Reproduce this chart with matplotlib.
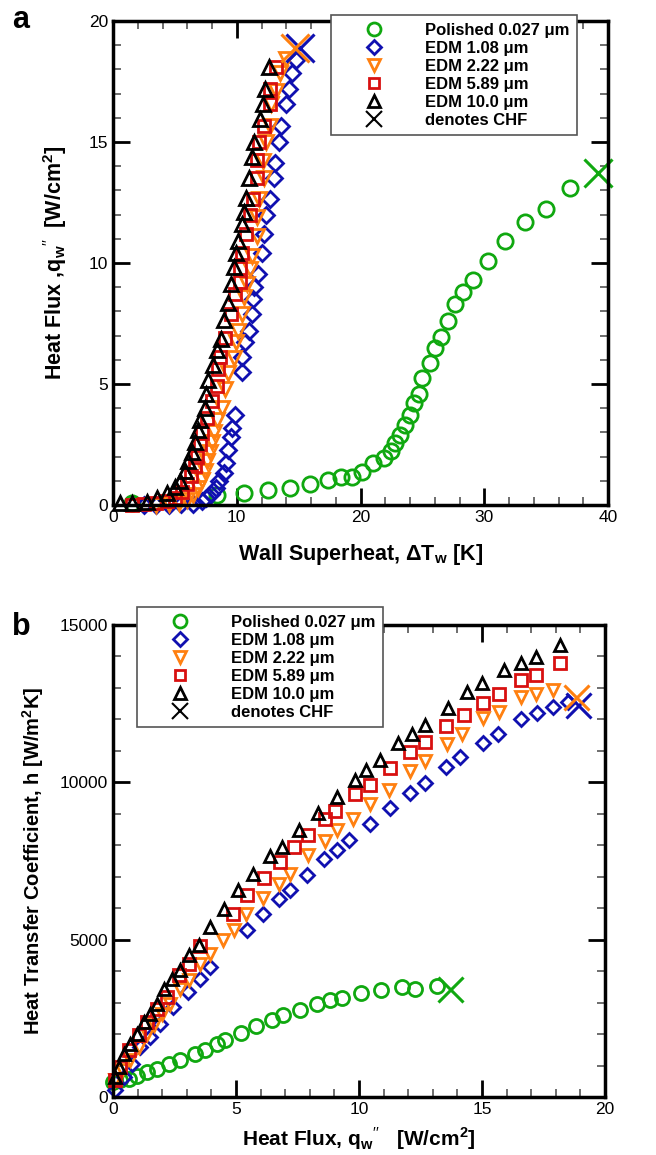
import numpy as np
import matplotlib.pyplot as plt
from matplotlib.lines import Line2D
from matplotlib.ticker import MultipleLocator

plt.rcParams['font.family'] = ['Liberation Sans', 'DejaVu Sans']
plt.rcParams['mathtext.fontset'] = 'custom'
plt.rcParams['mathtext.rm'] = 'Liberation Sans'
plt.rcParams['mathtext.bf'] = 'Liberation Sans:bold'

# ---------------- panel a: q'' vs wall superheat ----------------
pol_dT = [1.5, 8.4, 10.6, 12.5, 14.3, 15.9, 17.4, 18.4, 19.3, 20.1, 21.0, 21.9, 22.5, 22.8, 23.2, 23.6,
          24.0, 24.3, 24.7, 25.0, 25.6, 26.0, 26.5, 27.1, 27.6, 28.3, 29.1, 30.3, 31.7, 33.3, 35.0, 36.9]
pol_q = [0.1, 0.4, 0.5, 0.6, 0.7, 0.87, 1.03, 1.14, 1.17, 1.38, 1.72, 1.94, 2.24, 2.55, 2.89, 3.3,
         3.7, 4.2, 4.6, 5.23, 5.85, 6.5, 6.95, 7.6, 8.3, 8.8, 9.3, 10.1, 10.9, 11.7, 12.25, 13.1]

e108_dT = [2.5, 3.5, 4.5, 5.5, 6.5, 7.2, 7.5, 7.95, 8.3, 8.6, 9.0, 9.15, 9.3, 9.5, 9.6, 9.88, 10.4, 10.4,
           10.7, 11.0, 11.2, 11.35, 11.4, 11.75, 12.0, 12.2, 12.4, 12.7, 13.0, 13.1, 13.4, 13.6, 14.0, 14.2,
           14.45, 14.8]
e108_q = [0.01, 0.01, 0.02, 0.03, 0.06, 0.15, 0.3, 0.45, 0.7, 1.0, 1.32, 1.73, 2.27, 2.8, 3.2, 3.7, 5.5, 6.1,
          6.75, 7.2, 7.9, 8.5, 9.0, 9.55, 10.4, 11.2, 12.0, 12.65, 13.5, 14.15, 15.0, 15.65, 16.55, 17.2,
          17.85, 18.4]

e222_dT = [3.5, 4.5, 5.3, 6.0, 6.5, 6.9, 7.2, 7.4, 7.6, 7.8, 8.0, 8.2, 8.4, 8.8, 9.07, 9.33, 9.74, 9.95,
           10.1, 10.4, 10.6, 10.8, 11.1, 11.2, 11.6, 11.6, 11.8, 12.2, 12.1, 12.35, 12.7, 12.8, 13.2, 13.5, 14.0]
e222_q = [0.02, 0.03, 0.08, 0.2, 0.4, 0.7, 1.05, 1.4, 1.8, 2.2, 2.6, 3.0, 3.5, 4.0, 4.8, 5.44, 6.06, 6.74,
          7.2, 7.9, 8.6, 9.15, 9.77, 10.3, 11.1, 11.9, 12.66, 13.5, 14.2, 15.0, 15.65, 16.55, 17.1, 17.85, 18.45]

e589_dT = [1.5, 2.5, 3.5, 4.4, 5.0, 5.6, 6.0, 6.3, 6.6, 6.8, 7.0, 7.2, 7.6, 8.0, 8.4, 8.5, 8.66, 9.06, 9.5,
           9.87, 10.3, 10.3, 10.4, 10.76, 11.1, 11.35, 11.6, 11.6, 11.8, 12.2, 12.7, 12.7, 13.2]
e589_q = [0.02, 0.03, 0.07, 0.15, 0.3, 0.55, 0.85, 1.2, 1.6, 2.0, 2.5, 2.96, 3.6, 4.3, 4.9, 5.6, 6.1, 6.9, 7.9,
          8.7, 9.2, 9.8, 10.4, 11.2, 12.0, 12.66, 13.5, 14.25, 15.0, 15.65, 16.55, 17.2, 18.1]

e100_dT = [0.55, 1.5, 2.75, 3.55, 4.35, 5.0, 5.4, 5.85, 6.1, 6.4, 6.6, 6.9, 7.05, 7.4, 7.5, 7.7, 8.07, 8.4,
           8.7, 9.0, 9.3, 9.55, 9.8, 9.95, 10.1, 10.4, 10.6, 10.76, 11.0, 11.2, 11.4, 11.85, 12.1, 12.3, 12.6]
e100_q = [0.07, 0.07, 0.14, 0.27, 0.48, 0.75, 1.0, 1.4, 1.8, 2.2, 2.6, 3.1, 3.5, 4.0, 4.58, 5.16, 5.78, 6.4,
          6.86, 7.64, 8.33, 9.13, 9.84, 10.4, 10.9, 11.6, 12.1, 12.7, 13.5, 14.4, 15.0, 15.97, 16.55, 17.2, 18.1]

chf_a_dT = [39.2, 15.1, 14.7]
chf_a_q = [13.7, 18.9, 18.9]

# ---------------- panel b: h vs q'' ----------------
pol_qb = [0.0, 0.3, 0.64, 0.97, 1.38, 1.79, 2.26, 2.73, 3.32, 3.72, 4.23, 4.56, 5.2, 5.8, 6.46, 6.93, 7.6,
          8.29, 8.83, 9.3, 10.1, 10.9, 11.74, 12.28, 13.16]
pol_h = [480, 530, 583, 657, 795, 900, 1060, 1190, 1380, 1484, 1700, 1820, 2046, 2250, 2460, 2600, 2780,
         2970, 3070, 3150, 3290, 3410, 3500, 3445, 3520]

e108_qb = [0.1, 0.43, 0.77, 1.11, 1.52, 1.92, 2.44, 3.03, 3.55, 3.95, 5.44, 6.09, 6.76, 7.2, 7.88, 8.58, 9.1,
           9.61, 10.43, 11.24, 12.08, 12.7, 13.54, 14.1, 15.06, 15.67, 16.6, 17.25, 17.9, 18.5]
e108_h = [212, 636, 1060, 1590, 1900, 2330, 2860, 3340, 3760, 4130, 5320, 5830, 6280, 6590, 7070, 7550, 7840,
          8160, 8660, 9170, 9670, 9985, 10490, 10790, 11260, 11550, 12000, 12190, 12380, 12560]

e222_qb = [0.1, 0.37, 0.7, 1.04, 1.38, 1.65, 2.0, 2.33, 2.73, 3.07, 3.55, 3.95, 4.47, 4.9, 5.4, 6.1, 6.76, 7.2,
           7.91, 8.63, 9.1, 9.74, 10.43, 11.2, 12.08, 12.7, 13.57, 14.18, 15.06, 15.7, 16.6, 17.2, 17.9]
e222_h = [530, 848, 1166, 1590, 2014, 2280, 2650, 2970, 3445, 3730, 4240, 4560, 4980, 5320, 5810, 6340, 6780,
          7100, 7680, 8140, 8480, 8850, 9300, 9750, 10370, 10680, 11210, 11530, 12060, 12240, 12720, 12800, 12950]

e589_qb = [0.1, 0.3, 0.64, 1.04, 1.38, 1.79, 2.19, 2.7, 3.07, 3.55, 4.87, 5.44, 6.12, 6.77, 7.37, 7.91, 8.63,
           9.03, 9.82, 10.43, 11.27, 12.08, 12.7, 13.54, 14.25, 15.06, 15.7, 16.6, 17.2, 18.17]
e589_h = [530, 954, 1484, 1960, 2385, 2810, 3180, 3870, 4240, 4790, 5830, 6410, 6975, 7470, 7950, 8320, 8820,
          9080, 9614, 9930, 10440, 10970, 11290, 11790, 12137, 12530, 12794, 13250, 13409, 13780]

e100_qb = [0.1, 0.23, 0.43, 0.7, 0.97, 1.25, 1.52, 1.79, 2.08, 2.4, 2.73, 3.1, 3.48, 3.95, 4.5, 5.1, 5.7, 6.4,
           6.86, 7.58, 8.35, 9.1, 9.85, 10.3, 10.86, 11.6, 12.15, 12.7, 13.6, 14.4, 15.0, 15.9, 16.6, 17.2, 18.17]
e100_h = [636, 954, 1380, 1700, 2014, 2385, 2650, 2970, 3445, 3760, 4030, 4500, 4820, 5400, 5990, 6570, 7100,
          7650, 7950, 8480, 9010, 9540, 10070, 10390, 10706, 11240, 11550, 11820, 12350, 12880, 13144, 13570,
          13780, 13990, 14363]

chf_b_q = [13.7, 18.9, 18.82]
chf_b_h = [3445, 12450, 12720]

labels = ['Polished 0.027 \u03bcm', 'EDM 1.08 \u03bcm', 'EDM 2.22 \u03bcm', 'EDM 5.89 \u03bcm',
          'EDM 10.0 \u03bcm', 'denotes CHF']
colors = ['#10a810', '#1010b0', '#ff8010', '#d81010', 'black']
markers = ['o', 'D', 'v', 's', '^']
msizes = [11, 8, 10, 9, 10]
chf_colors = ['#10a810', '#1010b0', '#ff8010']


def style_axes(ax, xmaj, xmin, ymaj, ymin):
    ax.xaxis.set_major_locator(MultipleLocator(xmaj))
    ax.xaxis.set_minor_locator(MultipleLocator(xmin))
    ax.yaxis.set_major_locator(MultipleLocator(ymaj))
    ax.yaxis.set_minor_locator(MultipleLocator(ymin))
    ax.tick_params(which='both', direction='in', top=True, right=True, labelsize=12.5, width=2)
    ax.tick_params(which='major', length=12)
    ax.tick_params(which='minor', length=6, width=1.2, color='#555555')
    for s in ax.spines.values():
        s.set_linewidth(2.5)


def make_legend(ax, anchor):
    handles = []
    for c, m, ms in zip(colors, markers, msizes):
        handles.append(Line2D([], [], ls='none', marker=m, ms=ms * 0.85, mfc='none', mec=c, mew=2))
    handles.append(Line2D([], [], ls='none', marker='x', ms=11, mec='black', mew=1.5))
    leg = ax.legend(handles, labels, loc='upper left', bbox_to_anchor=anchor, frameon=True,
                    fancybox=False, edgecolor='#555555', framealpha=1, borderpad=0.45,
                    handlelength=4.3, handletextpad=0.9, labelspacing=0.18, borderaxespad=0,
                    prop={'weight': 'bold', 'size': 12})
    leg.get_frame().set_linewidth(1.2)
    leg.set_zorder(10)


fig = plt.figure(figsize=(6.56, 11.55), dpi=100)

# ---- a ----
ax = fig.add_axes([113 / 656, 1 - 505 / 1155, 495 / 656, 484 / 1155])
series_a = [(pol_dT, pol_q), (e108_dT, e108_q), (e222_dT, e222_q), (e589_dT, e589_q), (e100_dT, e100_q)]
for (x, y), c, m, ms in zip(series_a, colors, markers, msizes):
    ax.plot(x, y, ls='none', marker=m, ms=ms, mfc='none', mec=c, mew=2, clip_on=False)
for x, y, c in zip(chf_a_dT, chf_a_q, chf_colors):
    ax.plot(x, y, ls='none', marker='x', ms=20, mec=c, mew=2.2, clip_on=False)
ax.set_xlim(0, 40)
ax.set_ylim(0, 20)
style_axes(ax, 10, 2, 5, 1)
ax.set_xlabel(r'Wall Superheat, $\mathbf{\Delta T_w}$ [K]', fontsize=15.5, fontweight='bold', labelpad=12)
ax.set_ylabel(r"Heat Flux ,q$_\mathbf{w}$$''$  [W/cm$^\mathbf{2}$]", fontsize=15.5, fontweight='bold', labelpad=14)
make_legend(ax, (0.44, 1.012))
fig.text(12 / 656, 1 - 28 / 1155, 'a', fontsize=22, fontweight='bold')

# ---- b ----
bx = fig.add_axes([113 / 656, 1 - 1097 / 1155, 492 / 656, 472 / 1155])
series_b = [(pol_qb, pol_h), (e108_qb, e108_h), (e222_qb, e222_h), (e589_qb, e589_h), (e100_qb, e100_h)]
for (x, y), c, m, ms in zip(series_b, colors, markers, msizes):
    bx.plot(x, y, ls='none', marker=m, ms=ms * 0.92, mfc='none', mec=c, mew=2, clip_on=False)
for x, y, c in zip(chf_b_q, chf_b_h, chf_colors):
    bx.plot(x, y, ls='none', marker='x', ms=18, mec=c, mew=2.2, clip_on=False)
bx.set_xlim(0, 20)
bx.set_ylim(0, 15000)
style_axes(bx, 5, 1, 5000, 1000)
bx.set_xlabel(r"Heat Flux, q$_\mathbf{w}$$''$   [W/cm$^\mathbf{2}$]", fontsize=15, fontweight='bold', labelpad=6)
bx.set_ylabel(r'Heat Transfer Coefficient, h [W/m$^\mathbf{2}$K]', fontsize=14.5, fontweight='bold', labelpad=10)
make_legend(bx, (0.049, 1.038))
fig.text(12 / 656, 1 - 635 / 1155, 'b', fontsize=22, fontweight='bold')

fig.savefig('out.png', dpi=100)
